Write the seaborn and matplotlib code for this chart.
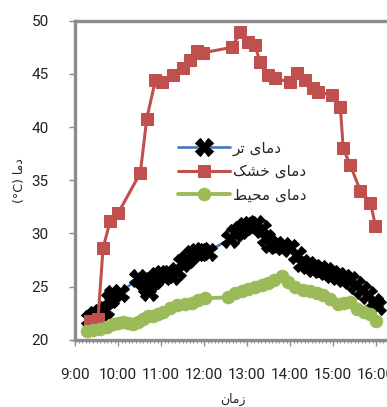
import re
import matplotlib
matplotlib.use('Agg')
import matplotlib.pyplot as plt
from matplotlib.ticker import MultipleLocator, FuncFormatter
import seaborn as sns

# Data (time of day, temperature in degC)
wet_time = ['9:21', '9:28', '9:35', '9:42', '9:49', '9:53', '10:03', '10:28', '10:35',
            '10:40', '10:43', '10:50', '10:54', '11:01', '11:08', '11:15', '11:22', '11:29',
            '11:36', '11:43', '11:50', '11:57', '12:06', '12:36', '12:43', '12:50', '12:57',
            '13:04', '13:12', '13:21', '13:26', '13:32', '13:40', '13:50', '14:00', '14:10',
            '14:17', '14:25', '14:33', '14:42', '14:50', '14:59', '15:07', '15:15', '15:24',
            '15:32', '15:40', '15:49', '15:57', '16:01']
wet_temp = [22.0, 22.3, 22.5, 22.8, 23.8, 24.3, 24.4, 25.8, 25.5,
            25.0, 24.5, 25.6, 26.0, 26.2, 26.2, 26.0, 26.5, 27.2,
            27.6, 28.1, 28.3, 28.4, 28.3, 29.5, 30.0, 30.3, 30.7,
            30.8, 30.9, 30.4, 29.6, 29.0, 28.9, 28.8, 28.6, 28.0,
            27.2, 27.0, 26.8, 26.7, 26.5, 26.2, 26.0, 25.8, 25.6,
            25.2, 24.7, 24.2, 23.6, 23.2]

dry_time = ['9:21', '9:32', '9:39', '9:49', '10:00', '10:31', '10:40', '10:52', '11:01',
            '11:17', '11:31', '11:40', '11:50', '11:59', '12:39', '12:50', '13:01', '13:11',
            '13:18', '13:29', '13:39', '14:00', '14:10', '14:21', '14:32', '14:39', '14:59',
            '15:10', '15:14', '15:24', '15:38', '15:52', '15:59']
dry_temp = [21.8, 22.0, 28.6, 31.2, 31.9, 35.7, 40.8, 44.4, 44.2,
            44.9, 45.6, 46.3, 47.2, 47.0, 47.5, 48.9, 48.0, 47.7,
            46.1, 44.9, 44.6, 44.2, 45.1, 44.4, 43.7, 43.3, 43.0,
            41.9, 38.0, 36.4, 34.0, 32.9, 30.7]

amb_time = ['9:17', '9:25', '9:35', '9:45', '9:53', '10:00', '10:07', '10:14', '10:21',
            '10:28', '10:35', '10:42', '10:49', '10:56', '11:03', '11:13', '11:22', '11:33',
            '11:43', '11:52', '12:01', '12:33', '12:43', '12:53', '13:01', '13:11', '13:21',
            '13:29', '13:38', '13:49', '13:57', '14:07', '14:18', '14:28', '14:38', '14:46',
            '14:56', '15:07', '15:15', '15:24', '15:33', '15:43', '15:51', '16:00']
amb_temp = [20.8, 20.9, 21.0, 21.2, 21.5, 21.6, 21.7, 21.6, 21.5,
            21.7, 22.0, 22.2, 22.2, 22.4, 22.6, 23.0, 23.3, 23.4,
            23.5, 23.7, 23.9, 24.0, 24.4, 24.6, 24.8, 25.0, 25.2,
            25.3, 25.6, 26.0, 25.4, 25.0, 24.7, 24.6, 24.4, 24.2,
            23.8, 23.4, 23.5, 23.6, 22.9, 22.6, 22.4, 21.8]

labels = ['دمای تر', 'دمای خشک', 'دمای محیط']
x_label = 'زمان'
y_label = 'دما (°C)'

# Arabic presentation forms: isolated, final, initial, medial
FORMS = {
    'ا': ('\uFE8D', '\uFE8E', None, None),
    'د': ('\uFEA9', '\uFEAA', None, None),
    'ر': ('\uFEAD', '\uFEAE', None, None),
    'ز': ('\uFEAF', '\uFEB0', None, None),
    'م': ('\uFEE1', '\uFEE2', '\uFEE3', '\uFEE4'),
    'ت': ('\uFE95', '\uFE96', '\uFE97', '\uFE98'),
    'خ': ('\uFEA5', '\uFEA6', '\uFEA7', '\uFEA8'),
    'ش': ('\uFEB5', '\uFEB6', '\uFEB7', '\uFEB8'),
    'ح': ('\uFEA1', '\uFEA2', '\uFEA3', '\uFEA4'),
    'ط': ('\uFEC1', '\uFEC2', '\uFEC3', '\uFEC4'),
    'ن': ('\uFEE5', '\uFEE6', '\uFEE7', '\uFEE8'),
    'ی': ('\uFBFC', '\uFBFD', '\uFBFE', '\uFBFF'),
    'ک': ('\uFB8E', '\uFB8F', '\uFB90', '\uFB91'),
}


def rtl(s):
    # matplotlib has no text shaping, so join letters and lay them out right to left
    out = []
    for i, ch in enumerate(s):
        if ch not in FORMS:
            out.append(ch)
            continue
        prev = s[i - 1] if i > 0 else ''
        nxt = s[i + 1] if i + 1 < len(s) else ''
        iso, fin, ini, med = FORMS[ch]
        jp = prev in FORMS and FORMS[prev][2] is not None
        jn = ini is not None and nxt in FORMS
        out.append(med if jp and jn else fin if jp else ini if jn else iso)
    vis = ''.join(out)[::-1]
    return re.sub(r'[^\s\uFB50-\uFEFF]+', lambda m: m.group(0)[::-1], vis)


def hours(ts):
    return [int(t.split(':')[0]) + int(t.split(':')[1]) / 60 for t in ts]


sns.set_style('white')
plt.rcParams['font.family'] = ['Roboto', 'DejaVu Sans']

fig = plt.figure(figsize=(3.87, 4.07), dpi=100)
ax = fig.add_axes([0.194, 0.165, 0.817, 0.784])

sns.lineplot(x=hours(wet_time), y=wet_temp, ax=ax, color='#4A7EBB', lw=2,
             marker='X', ms=12.5, mfc='black', mec='black', label=rtl(labels[0]))
sns.lineplot(x=hours(dry_time), y=dry_temp, ax=ax, color='#C0504D', lw=2.2,
             marker='s', ms=8, mfc='#C0504D', mec='#C0504D', label=rtl(labels[1]))
sns.lineplot(x=hours(amb_time), y=amb_temp, ax=ax, color='#9BBB59', lw=2.8,
             marker='o', ms=9, mfc='#9BBB59', mec='#9BBB59', label=rtl(labels[2]))

ax.set_xlim(9, 16.35)
ax.set_ylim(20, 50)
ax.xaxis.set_major_locator(MultipleLocator(1))
ax.xaxis.set_minor_locator(MultipleLocator(1 / 12))
ax.xaxis.set_major_formatter(FuncFormatter(lambda v, p: f'{int(round(v))}:00'))
ax.yaxis.set_major_locator(MultipleLocator(5))

for s in ax.spines.values():
    s.set_color('#8C8C8C')
    s.set_linewidth(2.4)
ax.tick_params(axis='both', which='both', direction='out', color='#8C8C8C',
               labelsize=11, labelcolor='#222222')
ax.tick_params(axis='x', which='major', length=4, width=1, pad=16, bottom=True)
ax.tick_params(axis='x', which='minor', length=2, width=0.8, bottom=True)
ax.tick_params(axis='y', which='major', length=4, width=1, pad=15, left=True)

ax.set_xlabel(rtl(x_label), fontsize=9, family=['DejaVu Sans'], labelpad=8)
ax.set_ylabel(rtl(y_label), fontsize=9, family=['DejaVu Sans'], labelpad=4)

ax.legend(loc='upper left', bbox_to_anchor=(0.46, 0.655), bbox_transform=fig.transFigure,
          frameon=False, prop={'family': 'DejaVu Sans', 'size': 11},
          handlelength=3.4, handletextpad=0.2, labelspacing=0.55, borderpad=0,
          borderaxespad=0)

fig.savefig('out.png', dpi=100)
